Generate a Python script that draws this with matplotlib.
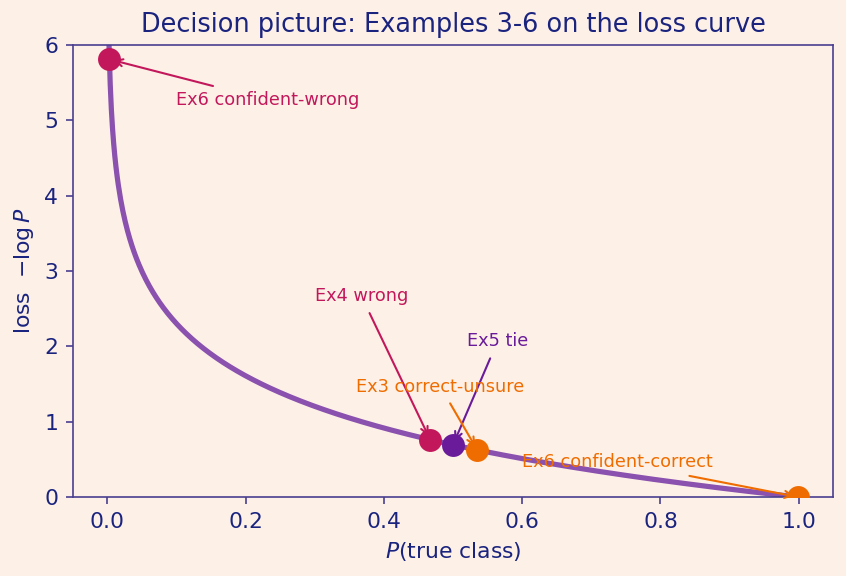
import numpy as np
import matplotlib
matplotlib.use("Agg")
import matplotlib.pyplot as plt

# data
curve_p = np.linspace(0.0025, 1.0, 600)
point_labels = ["Ex6 confident-wrong", "Ex4 wrong", "Ex5 tie", "Ex3 correct-unsure", "Ex6 confident-correct"]
point_p = [0.003, 0.467, 0.50, 0.535, 0.999]
point_colors = ["#c2185b", "#c2185b", "#6a1b9a", "#ef6c00", "#ef6c00"]
text_pos = [(0.10, 5.2), (0.30, 2.6), (0.52, 2.0), (0.36, 1.4), (0.60, 0.4)]

bg = "#fdf1e7"
navy = "#1a237e"
spine = "#4a3f8f"

fig = plt.figure(figsize=(5.64, 3.84), dpi=150, facecolor=bg)
ax = fig.add_axes([0.086, 0.137, 0.899, 0.785])
ax.set_facecolor(bg)

ax.plot(curve_p, -np.log(curve_p), color="#7e3fa8", lw=2.5, alpha=0.9, zorder=2)

for lab, p, c, tp in zip(point_labels, point_p, point_colors, text_pos):
    y = -np.log(p)
    ax.plot([p], [y], "o", ms=10, color=c, zorder=4, clip_on=True)
    ax.annotate(lab, xy=(p, y), xytext=tp, color=c, fontsize=8.5,
                arrowprops=dict(arrowstyle="->", color=c, lw=1.0), zorder=5)

ax.set_xlim(-0.05, 1.05)
ax.set_ylim(0, 6)
ax.set_title("Decision picture: Examples 3-6 on the loss curve", color=navy, fontsize=12.3)
ax.set_xlabel(r"$P$(true class)", color=navy, fontsize=10.5)
ax.set_ylabel(r"loss  $-\log P$", color=navy, fontsize=10.5)
ax.tick_params(colors=spine, labelcolor=navy, labelsize=10.5)
for s in ax.spines.values():
    s.set_color(spine)

fig.savefig("out.png", dpi=150, facecolor=bg)
